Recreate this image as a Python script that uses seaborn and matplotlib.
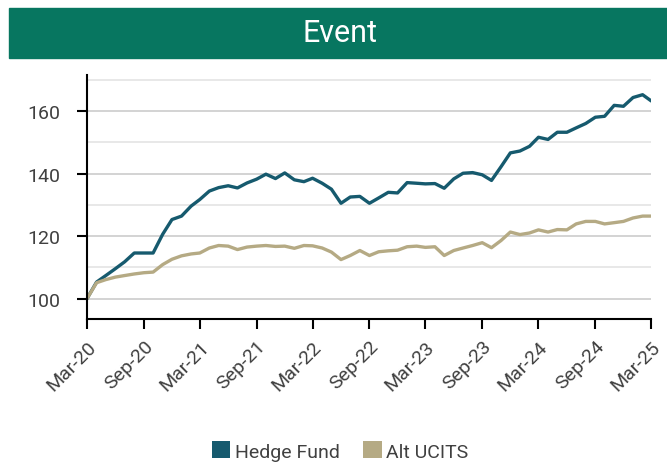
import matplotlib.pyplot as plt
import matplotlib.dates as mdates
import numpy as np
import pandas as pd
import seaborn as sns
from matplotlib.patches import Patch, Rectangle
from matplotlib.ticker import MultipleLocator

# monthly index levels, Mar-20 .. Mar-25
months = pd.date_range("2020-03-01", "2025-03-01", freq="MS")
hedge_fund = [
    100.0, 105.3, 107.4, 109.6, 111.8, 114.6, 114.6, 114.6, 120.6, 125.3,
    126.4, 129.6, 131.7, 134.4, 135.5, 136.1, 135.4, 137.0, 138.2, 139.8,
    138.4, 140.2, 138.0, 137.4, 138.5, 136.9, 135.0, 130.5, 132.5, 132.7,
    130.5, 132.2, 134.0, 133.8, 137.1, 136.9, 136.7, 136.8, 135.3, 138.3,
    140.1, 140.3, 139.6, 137.8, 142.2, 146.6, 147.2, 148.7, 151.6, 150.9,
    153.2, 153.2, 154.6, 156.0, 158.0, 158.3, 161.8, 161.5, 164.3, 165.2,
    163.2,
]
alt_ucits = [
    100.0, 105.1, 106.1, 106.9, 107.4, 107.9, 108.3, 108.5, 110.9, 112.6,
    113.7, 114.3, 114.6, 116.2, 117.0, 116.8, 115.7, 116.5, 116.8, 117.0,
    116.7, 116.8, 116.1, 117.0, 116.9, 116.2, 114.9, 112.5, 113.8, 115.4,
    113.8, 115.0, 115.3, 115.5, 116.6, 116.8, 116.4, 116.6, 113.8, 115.4,
    116.2, 117.0, 117.9, 116.3, 118.6, 121.3, 120.5, 121.0, 122.0, 121.3,
    122.1, 122.0, 123.9, 124.7, 124.7, 123.9, 124.3, 124.7, 125.8, 126.4,
    126.4,
]
series_names = ["Hedge Fund", "Alt UCITS"]
colors = ["#165a6e", "#b5aa84"]
title = "Event"

df = pd.DataFrame({"date": months, "Hedge Fund": hedge_fund, "Alt UCITS": alt_ucits})
long = df.melt(id_vars="date", var_name="series", value_name="value")

sns.set_style("white", {"xtick.bottom": True, "ytick.left": True})
plt.rcParams["font.family"] = ["Roboto", "DejaVu Sans"]
plt.rcParams["ytick.major.size"] = 7
plt.rcParams["ytick.major.width"] = 1.5
plt.rcParams["ytick.minor.size"] = 0

fig = plt.figure(figsize=(6.67, 4.64), dpi=100)
ax = fig.add_axes([0.1304, 0.3103, 0.846, 0.5259])

sns.lineplot(data=long, x="date", y="value", hue="series", hue_order=series_names,
             palette=colors, linewidth=2.4, legend=False, ax=ax)

ax.set_xlim(months[0], months[-1])
ax.set_ylim(93.5, 171.5)
ax.set_xlabel("")
ax.set_ylabel("")

ax.xaxis.set_major_locator(mdates.MonthLocator(bymonth=[3, 9]))
ax.xaxis.set_major_formatter(mdates.DateFormatter("%b-%y"))
ax.set_yticks([100, 120, 140, 160])
ax.set_yticks([110, 130, 150, 170], minor=True)

ax.grid(axis="y", which="major", color="#c8c8c8", linewidth=1.1)
ax.grid(axis="y", which="minor", color="#e2e2e2", linewidth=1.1)
ax.set_axisbelow(True)

for side in ["top", "right"]:
    ax.spines[side].set_visible(False)
for side in ["left", "bottom"]:
    ax.spines[side].set_color("black")
    ax.spines[side].set_linewidth(1.5)

ax.yaxis.set_ticks_position("left")
ax.xaxis.set_ticks_position("bottom")
ax.tick_params(axis="x", which="major", direction="out", length=7, width=1.5,
               color="black", labelsize=14, labelcolor="#404040", pad=6)
ax.tick_params(axis="y", which="major", direction="out", length=7, width=1.5,
               color="black", labelsize=14, labelcolor="#404040", pad=12)
ax.tick_params(axis="y", which="minor", length=0)
plt.setp(ax.get_xticklabels(), rotation=45, ha="right", rotation_mode="anchor")

# title banner
fig.patches.append(Rectangle((9 / 667, 1 - 59 / 464), 1 - 9 / 667, 50 / 464,
                             transform=fig.transFigure, color="#077660", zorder=0))
fig.text(0.51, 1 - 34 / 464, title, color="white", fontsize=22, ha="center", va="center")

handles = [Patch(facecolor=c, edgecolor="none") for c in colors]
fig.legend(handles, series_names, loc="center", bbox_to_anchor=(0.51, 1 - 452 / 464),
           ncol=2, frameon=False, fontsize=14, handlelength=0.95, handleheight=0.95,
           handletextpad=0.25, columnspacing=1.2, labelcolor="#404040")

fig.savefig("out.png", dpi=100)
